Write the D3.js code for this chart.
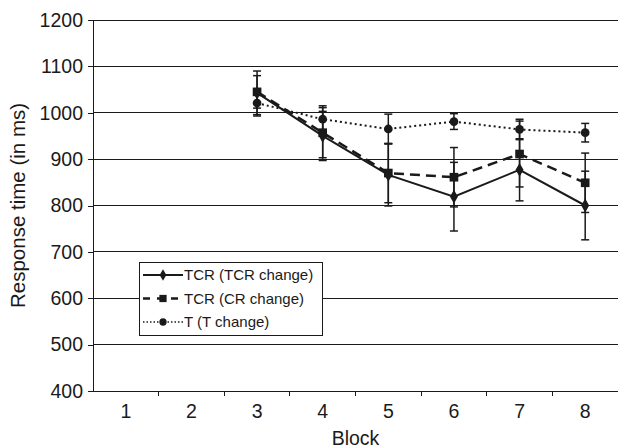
<!DOCTYPE html>
<html><head><meta charset="utf-8">
<script src="https://cdn.jsdelivr.net/npm/d3@7"></script>
<style>body{margin:0;background:#fff}svg{display:block}text{font-family:Arial,"Liberation Sans",sans-serif;fill:#1a1a1a}</style>
</head><body><svg id="c" width="618" height="448"></svg>
<script>
const blocks = ["1","2","3","4","5","6","7","8"];
const yTicks = [400,500,600,700,800,900,1000,1100,1200];
const seriesNames = ["TCR (TCR change)","TCR (CR change)","T (T change)"];
const tcrTcr = [null,null,1043,950,866,819,877,800];
const tcrTcrErr = [null,null,47,53,67,74,67,74];
const tcrCr = [null,null,1045,957,870,861,911,849];
const tcrCrErr = [null,null,35,54,64,64,71,64];
const tChange = [null,null,1021,986,965,981,964,957];
const tChangeErr = [null,null,28,29,32,17,22,20];

const svg = d3.select("#c");
const L=93,R=618,T=20,B=391;
const x = d3.scaleBand().domain(blocks).range([L,R]);
const y = d3.scaleLinear().domain([400,1200]).range([B,T]);
const ink="#1a1a1a";
const FF="Arial, 'Liberation Sans', sans-serif";

// gridlines
svg.append("g").selectAll("line").data(yTicks).join("line")
  .attr("x1",L).attr("x2",R).attr("y1",d=>y(d)).attr("y2",d=>y(d))
  .attr("stroke",ink).attr("stroke-width",1).attr("shape-rendering","crispEdges");
// y axis
const ya = svg.append("g").attr("transform",`translate(${L},0)`)
  .call(d3.axisLeft(y).tickValues(yTicks).tickSize(5).tickPadding(5).tickFormat(d3.format("d")));
ya.select(".domain").attr("stroke",ink).attr("shape-rendering","crispEdges");
ya.selectAll(".tick line").attr("stroke",ink).attr("shape-rendering","crispEdges");
ya.selectAll("text").attr("font-size",19.5).attr("fill",ink).style("font-family",FF);
// x axis
const xa = svg.append("g").attr("transform",`translate(0,${B})`)
  .call(d3.axisBottom(x).tickSize(0).tickPadding(13));
xa.select(".domain").remove();
xa.selectAll("text").attr("font-size",19.5).attr("fill",ink).style("font-family",FF);
svg.append("g").selectAll("line").data(blocks.slice(1)).join("line")
  .attr("x1",d=>x(d)).attr("x2",d=>x(d)).attr("y1",B).attr("y2",B+5)
  .attr("stroke",ink).attr("shape-rendering","crispEdges");

svg.append("text").attr("x",(L+R)/2).attr("y",445).attr("text-anchor","middle").attr("font-size",19.5).text("Block");
svg.append("text").attr("transform",`translate(25,${(T+B)/2}) rotate(-90)`).attr("text-anchor","middle").attr("font-size",20.5).text("Response time (in ms)");

const series = [
  {name:seriesNames[0], v:tcrTcr, e:tcrTcrErr, dash:null, w:2, shape:d3.symbolDiamond, size:55},
  {name:seriesNames[1], v:tcrCr, e:tcrCrErr, dash:"10,6", w:2.5, shape:d3.symbolSquare, size:75},
  {name:seriesNames[2], v:tChange, e:tChangeErr, dash:"2,3", w:2, shape:d3.symbolCircle, size:60}
];
const cx = d=>x(d)+x.bandwidth()/2;

// error bars
series.forEach(s=>{
  const pts = blocks.map((b,i)=>({b,v:s.v[i],e:s.e[i]})).filter(p=>p.v!=null);
  const g = svg.append("g").attr("stroke",ink).attr("stroke-width",1.5);
  g.selectAll(".v").data(pts).join("line").attr("x1",p=>cx(p.b)).attr("x2",p=>cx(p.b))
    .attr("y1",p=>y(p.v-p.e)).attr("y2",p=>y(p.v+p.e));
  g.selectAll(".t").data(pts).join("line").attr("x1",p=>cx(p.b)-4).attr("x2",p=>cx(p.b)+4)
    .attr("y1",p=>y(p.v+p.e)).attr("y2",p=>y(p.v+p.e));
  g.selectAll(".bb").data(pts).join("line").attr("x1",p=>cx(p.b)-4).attr("x2",p=>cx(p.b)+4)
    .attr("y1",p=>y(p.v-p.e)).attr("y2",p=>y(p.v-p.e));
});
// lines and markers
series.slice().reverse().forEach(s=>{
  const pts = blocks.map((b,i)=>({b,v:s.v[i]})).filter(p=>p.v!=null);
  svg.append("path").datum(pts).attr("fill","none").attr("stroke",ink).attr("stroke-width",s.w)
    .attr("stroke-dasharray",s.dash).attr("d",d3.line().x(p=>cx(p.b)).y(p=>y(p.v)));
  svg.append("g").selectAll("path").data(pts).join("path")
    .attr("transform",p=>`translate(${cx(p.b)},${y(p.v)})`)
    .attr("d",d3.symbol().type(s.shape).size(s.size)).attr("fill",ink);
});

// legend
const lg = svg.append("g");
lg.append("rect").attr("x",139.5).attr("y",262.5).attr("width",183).attr("height",73)
  .attr("fill","#fff").attr("stroke",ink).attr("stroke-width",1);
series.forEach((s,i)=>{
  const yy = 275 + i*23.5;
  lg.append("line").attr("x1",143).attr("x2",183).attr("y1",yy).attr("y2",yy)
    .attr("stroke",ink).attr("stroke-width",s.w===2.5?2.5:(s.dash?1.5:2)).attr("stroke-dasharray",s.dash?(i===1?"7,7":"1.5,2"):null);
  lg.append("path").attr("transform",`translate(163,${yy})`).attr("d",d3.symbol().type(s.shape).size(s.size*0.7)).attr("fill",ink);
  lg.append("text").attr("x",184).attr("y",yy).attr("dy","0.36em").attr("font-size",15).text(s.name);
});
</script></body></html>
